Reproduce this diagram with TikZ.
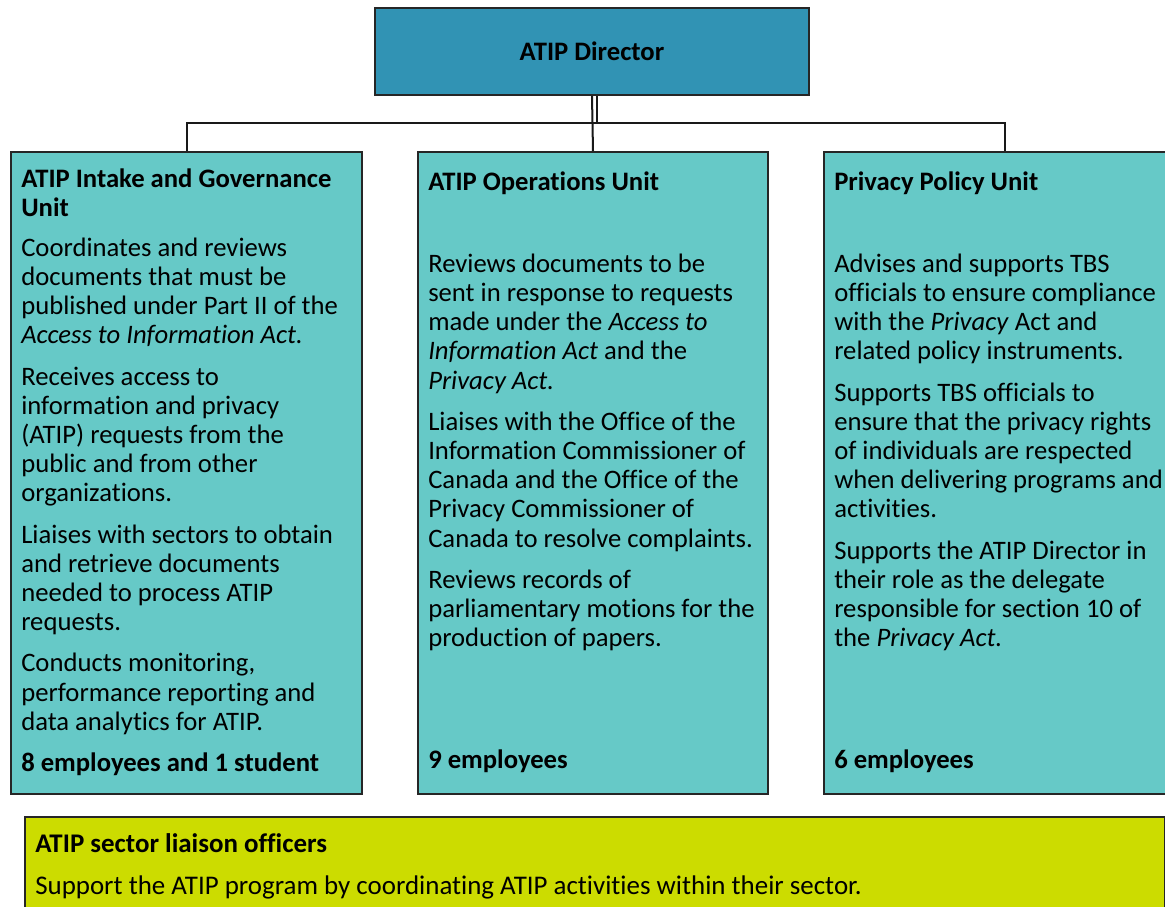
\documentclass[tikz,border=0pt]{standalone}
\usepackage{fontspec}
\setmainfont{Carlito}[Ligatures=NoCommon]
\usepackage{tikz}

\definecolor{dirblue}{RGB}{49,147,180}
\definecolor{unitteal}{RGB}{102,201,199}
\definecolor{liaisongreen}{RGB}{204,220,0}

\begin{document}
\begin{tikzpicture}[x=0.75pt, y=-0.75pt,
	every node/.style={font=\fontsize{20}{21.9}\selectfont},
	unitbox/.style={draw=black!85, line width=1.5pt, fill=unitteal, anchor=north west, inner sep=0pt, minimum height=481.5pt},
	unittext/.style={anchor=north west, align=left, inner sep=0pt},
	link/.style={line width=1.5pt, black!90}]
	\useasboundingbox (0,0) rectangle (1165,907);
	\clip (0,0) rectangle (1165,907);

	\node[draw=black!85, line width=1.5pt, fill=dirblue, minimum width=325.5pt, minimum height=65.25pt] (director) at (592,51.5) {\textbf{ATIP Director}};

	\node[unitbox, minimum width=263.25pt] (intake) at (10,151) {};
	\node[unitbox, minimum width=262.5pt] (operations) at (417,151) {};
	\node[unitbox, minimum width=271.5pt] (policy) at (823,151) {};
	\node[draw=black!85, line width=1.5pt, fill=liaisongreen, anchor=north west, minimum width=855pt, minimum height=93pt] (liaison) at (24,816) {};

	\coordinate (bar) at (592,123);
	\draw[link] (director.south) -- (operations.north);
	\draw[link] ([xshift=3.75pt]director.south) -- ([xshift=3.75pt]bar);
	\draw[link] (intake.north) |- (bar) -| (policy.north);

	% intake and governance
	\node[unittext] (intaketitle) at (21,168.5) {\textbf{ATIP Intake and Governance}\\\textbf{Unit}};
	\node[unittext] (intakebody) at (21,237.5) {Coordinates and reviews\\documents that must be\\published under Part II of the\\\textit{Access to Information Act.}\\[9pt]
		Receives access to\\information and privacy\\(ATIP) requests from the\\public and from other\\organizations.\\[9pt]
		Liaises with sectors to obtain\\and retrieve documents\\needed to process ATIP\\requests.\\[9pt]
		Conducts monitoring,\\performance reporting and\\data analytics for ATIP.};
	\node[unittext] (intakestaff) at (21,752.5) {\textbf{8 employees and 1 student}};

	% operations
	\node[unittext] (opstitle) at (428,171.5) {\textbf{ATIP Operations Unit}};
	\node[unittext] (opsbody) at (428,253.5) {Reviews documents to be\\sent in response to requests\\made under the \textit{Access to}\\\textit{Information Act} and the\\\textit{Privacy Act.}\\[9pt]
		Liaises with the Office of the\\Information Commissioner of\\Canada and the Office of the\\Privacy Commissioner of\\Canada to resolve complaints.\\[9pt]
		Reviews records of\\parliamentary motions for the\\production of papers.};
	\node[unittext] (opsstaff) at (428,749.5) {\textbf{9 employees}};

	% privacy policy
	\node[unittext] (policytitle) at (834,171.5) {\textbf{Privacy Policy Unit}};
	\node[unittext] (policybody) at (834,253.5) {Advises and supports TBS\\officials to ensure compliance\\with the \textit{Privacy} Act and\\related policy instruments.\\[9pt]
		Supports TBS officials to\\ensure that the privacy rights\\of individuals are respected\\when delivering programs and\\activities.\\[9pt]
		Supports the ATIP Director in\\their role as the delegate\\responsible for section 10 of\\the \textit{Privacy Act.}};
	\node[unittext] (policystaff) at (834,749.5) {\textbf{6 employees}};

	% sector liaison officers
	\node[unittext, font=\fontsize{20.2}{21.9}\selectfont] (liaisontitle) at (35,833.5) {\textbf{ATIP sector liaison officers}};
	\node[unittext, font=\fontsize{20.2}{21.9}\selectfont] (liaisonbody) at (35,875.5) {Support the ATIP program by coordinating ATIP activities within their sector.};
\end{tikzpicture}
\end{document}
